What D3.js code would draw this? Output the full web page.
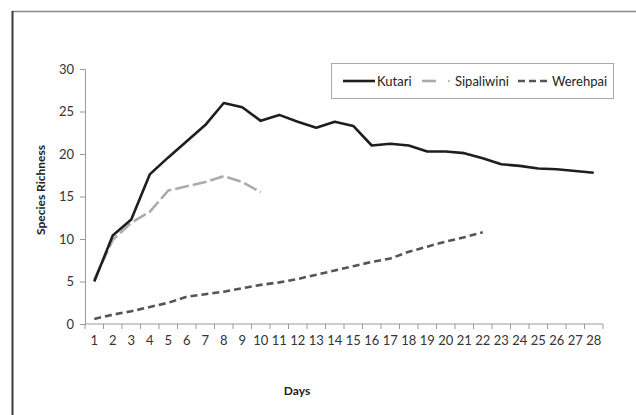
<!DOCTYPE html>
<html lang="en">
<head>
<meta charset="UTF-8">
<title>Species Richness by Day</title>
<script src="https://d3js.org/d3.v7.min.js"></script>
<style>
  body { margin: 0; background: #fff; }
  svg { font-family: Lato, "Open Sans", sans-serif; }
</style>
</head>
<body>
<svg id="chart" width="636" height="415"></svg>
<script>
// data
const days = d3.range(1, 29);
const kutari = [5, 10.4, 12.3, 17.6, 19.6, 21.5, 23.4, 26, 25.5, 23.9, 24.6, 23.8, 23.1, 23.8, 23.3,
                21, 21.2, 21, 20.3, 20.3, 20.1, 19.5, 18.8, 18.6, 18.3, 18.2, 18, 17.8];
const sipaliwini = [5.2, 9.9, 11.9, 13.2, 15.7, 16.2, 16.7, 17.4, 16.7, 15.5];
const werehpai = [0.6, 1.1, 1.5, 2.0, 2.5, 3.2, 3.5, 3.8, 4.2, 4.6, 4.9, 5.3, 5.8, 6.3, 6.8,
                  7.3, 7.7, 8.5, 9.1, 9.7, 10.2, 10.8];
const yTicks = [0, 5, 10, 15, 20, 25, 30];

const series = [
  {name: "Kutari", values: kutari, color: "#1e1e1e", dash: null},
  {name: "Sipaliwini", values: sipaliwini, color: "#ababab", dash: "14,4"},
  {name: "Werehpai", values: werehpai, color: "#555555", dash: "7,4"}
];

const svg = d3.select("#chart");
const mLeft = 85, mRight = 603, mTop = 69, mBottom = 324;

// frame lines (only left and top visible)
svg.append("line").attr("x1", 12).attr("x2", 636).attr("y1", 11.5).attr("y2", 11.5)
  .attr("stroke", "#888").attr("stroke-width", 1.5);
svg.append("line").attr("x1", 12.5).attr("x2", 12.5).attr("y1", 11).attr("y2", 415)
  .attr("stroke", "#3a3a3a").attr("stroke-width", 2);

const x = d3.scaleBand().domain(days).range([mLeft, mRight]);
const y = d3.scaleLinear().domain([0, 30]).range([mBottom, mTop]);

// y axis
const yAxis = svg.append("g").attr("transform", `translate(${mLeft},0)`)
  .call(d3.axisLeft(y).tickValues(yTicks).tickSize(5).tickPadding(6));
yAxis.select(".domain").attr("stroke", "#999");
yAxis.selectAll(".tick line").attr("stroke", "#999");
yAxis.selectAll("text").attr("font-size", 13).attr("fill", "#333").attr("font-family", "Lato, sans-serif");

// x axis: ticks on category boundaries
const xAxis = svg.append("g").attr("transform", `translate(0,${mBottom})`)
  .call(d3.axisBottom(x).tickSize(0).tickPadding(12));
xAxis.select(".domain").attr("stroke", "#999").attr("d", `M${mLeft},0H${mRight}`);
xAxis.selectAll("text").attr("font-size", 13).attr("fill", "#333").attr("font-family", "Lato, sans-serif");
svg.append("g").selectAll("line")
  .data(days.concat([29]))
  .join("line")
  .attr("x1", d => mLeft + (d - 1) * x.step())
  .attr("x2", d => mLeft + (d - 1) * x.step())
  .attr("y1", mBottom).attr("y2", mBottom + 5)
  .attr("stroke", "#999");

// axis titles
svg.append("text").attr("x", 297).attr("y", 395).attr("text-anchor", "middle")
  .attr("font-size", 12).attr("font-weight", "bold").attr("fill", "#222").text("Days");
svg.append("text").attr("transform", "translate(45,190) rotate(-90)").attr("text-anchor", "middle")
  .attr("font-size", 12).attr("font-weight", "bold").attr("fill", "#222").text("Species Richness");

// lines
const line = d3.line()
  .x((d, i) => x(days[i]) + x.bandwidth() / 2)
  .y(d => y(d));

series.slice().reverse().forEach(s => {
  svg.append("path")
    .datum(s.values)
    .attr("d", line)
    .attr("fill", "none")
    .attr("stroke", s.color)
    .attr("stroke-width", 2.6)
    .attr("stroke-linejoin", "round")
    .attr("stroke-dasharray", s.dash);
});

// legend
const lg = svg.append("g");
lg.append("rect").attr("x", 331.5).attr("y", 63.5).attr("width", 282).attr("height", 35)
  .attr("fill", "#fff").attr("stroke", "#aaa");
const legendPos = [{x1: 343, x2: 375, tx: 377}, {x1: 422, x2: 440, tx: 455}, {x1: 518, x2: 550, tx: 552}];
series.forEach((s, i) => {
  const p = legendPos[i];
  lg.append("line").attr("x1", p.x1).attr("x2", p.x2).attr("y1", 81).attr("y2", 81)
    .attr("stroke", s.color).attr("stroke-width", 2.6)
    .attr("stroke-dasharray", s.dash);
  if (i === 1) {
    lg.append("circle").attr("cx", 449).attr("cy", 81).attr("r", 1).attr("fill", s.color);
  }
  lg.append("text").attr("x", p.tx).attr("y", 81).attr("dy", "0.35em")
    .attr("font-size", 13).attr("fill", "#222").text(s.name);
});
</script>
</body>
</html>
